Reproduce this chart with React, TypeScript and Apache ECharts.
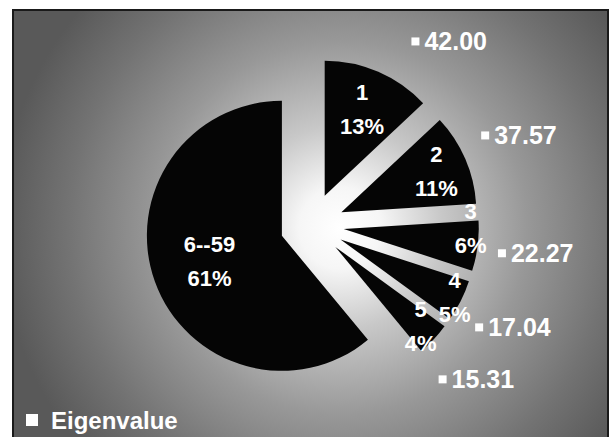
import React, { useEffect, useRef } from 'react';
import * as echarts from 'echarts';

// ---- data ----
const categories = ['1', '2', '3', '4', '5', '6--59'];
const percents = [13, 11, 6, 5, 4, 61];
const eigenvalues = ['42.00', '37.57', '22.27', '17.04', '15.31', ''];
const seriesName = 'Eigenvalue';

const FONT = "'Liberation Sans', Arial, Helvetica, sans-serif";
const CENTER: [number, number] = [312, 225];
const R = 135;
const OFFSET = 32;

const nameLabelStyle = {
  color: '#ffffff',
  fontFamily: FONT,
  fontWeight: 'bold',
  fontSize: 22,
  lineHeight: 34,
};

const nameText = (i: number) => `${categories[i]}\n${percents[i]}%`;

// transparent, exploded ring used only to place the name / percent labels
function nameLabelSeries(id: string, r0: number, r1: number, show: number[], extra: any = {}) {
  return {
    type: 'pie',
    name: id,
    silent: true,
    center: CENTER,
    radius: [r0, r1],
    startAngle: 90,
    clockwise: true,
    selectedMode: 'multiple',
    selectedOffset: OFFSET,
    avoidLabelOverlap: false,
    labelLayout: { hideOverlap: false },
    itemStyle: { color: 'rgba(0,0,0,0)', borderWidth: 0 },
    labelLine: { show: false },
    emphasis: { disabled: true },
    label: {
      show: true,
      position: 'inside',
      formatter: (p: any) => nameText(p.dataIndex),
      ...nameLabelStyle,
      ...extra,
    },
    data: categories.map((c, i) => ({
      name: c,
      value: percents[i],
      selected: true,
      label: { show: show.includes(i) },
    })),
  };
}

const valueRich = {
  sq: { width: 8, height: 8, backgroundColor: '#ffffff' },
  v: {
    color: '#ffffff',
    fontFamily: FONT,
    fontWeight: 'bold',
    fontSize: 25,
    padding: [0, 0, 0, 5],
  },
};

function valueFormatter(p: any) {
  return `{sq| }{v|${eigenvalues[p.dataIndex]}}`;
}

export default function App() {
  const ref = useRef<HTMLDivElement>(null);

  useEffect(() => {
    if (!ref.current) return;
    const chart = echarts.init(ref.current, undefined, { renderer: 'svg' });

    const option: any = {
      animation: false,
      backgroundColor: '#ffffff',
      graphic: {
        elements: [
          {
            type: 'rect',
            z: -100,
            silent: true,
            shape: { x: 13, y: 10, width: 595, height: 440 },
            style: {
              fill: {
                type: 'radial',
                global: true,
                x: 340,
                y: 228,
                r: 340,
                colorStops: [
                  { offset: 0, color: '#ffffff' },
                  { offset: 0.12, color: '#f6f6f6' },
                  { offset: 0.3, color: '#c8c8c8' },
                  { offset: 0.55, color: '#989898' },
                  { offset: 0.8, color: '#737373' },
                  { offset: 1, color: '#595959' },
                ],
              },
              stroke: '#1a1a1a',
              lineWidth: 2,
            },
          },
        ],
      },
      legend: {
        show: true,
        left: 26,
        top: 408,
        padding: 0,
        icon: 'rect',
        itemWidth: 12,
        itemHeight: 12,
        selectedMode: false,
        data: [{ name: seriesName, itemStyle: { color: '#ffffff' } }],
        textStyle: {
          color: '#ffffff',
          fontFamily: FONT,
          fontWeight: 'bold',
          fontSize: 24,
          padding: [0, 0, 0, 8],
        },
      },
      series: [
        {
          type: 'pie',
          name: seriesName,
          center: CENTER,
          radius: [0, R],
          startAngle: 90,
          clockwise: true,
          selectedMode: 'multiple',
          selectedOffset: OFFSET,
          label: { show: false },
          labelLine: { show: false },
          emphasis: { disabled: true },
          itemStyle: { color: '#050505', borderWidth: 0 },
          data: categories.map((c, i) => ({ name: c, value: percents[i], selected: true })),
        },
        nameLabelSeries('lblBig', 13, 135, [5]),
        nameLabelSeries('lbl1', 47, 135, [0]),
        nameLabelSeries('lbl2', 66, 135, [1]),
        // trailing blank line lifts this label half a line, as in the original
        nameLabelSeries('lbl3', 90, 160, [2], {
          formatter: (p: any) => `${nameText(p.dataIndex)}\n `,
        }),
        nameLabelSeries('lbl4', 90, 160, [3]),
        nameLabelSeries('lbl5', 80, 148, [4]),
        {
          type: 'pie',
          name: 'valuesOuter',
          silent: true,
          center: CENTER,
          radius: [195, 250],
          startAngle: 90,
          clockwise: true,
          avoidLabelOverlap: false,
          labelLayout: { hideOverlap: false },
          itemStyle: { color: 'rgba(0,0,0,0)', borderWidth: 0 },
          labelLine: { show: false },
          emphasis: { disabled: true },
          label: { show: true, position: 'inside', formatter: valueFormatter, rich: valueRich },
          data: categories.map((c, i) => ({
            name: c,
            value: percents[i],
            label: { show: i >= 1 && i <= 4 },
          })),
        },
        {
          type: 'pie',
          name: 'valuesFirst',
          silent: true,
          center: CENTER,
          radius: [0, R],
          startAngle: 90,
          clockwise: true,
          avoidLabelOverlap: false,
          labelLayout: { hideOverlap: false },
          itemStyle: { color: 'rgba(0,0,0,0)', borderWidth: 0 },
          labelLine: { show: false, length: 65, length2: 15 },
          emphasis: { disabled: true },
          label: { show: true, position: 'outside', formatter: valueFormatter, rich: valueRich },
          data: categories.map((c, i) => ({
            name: c,
            value: percents[i],
            label: { show: i === 0 },
          })),
        },
      ],
    };

    chart.setOption(option);
    return () => chart.dispose();
  }, []);

  return (
    <div
      ref={ref}
      style={{ position: 'fixed', left: 0, top: 0, width: 610, height: 437 }}
    />
  );
}
